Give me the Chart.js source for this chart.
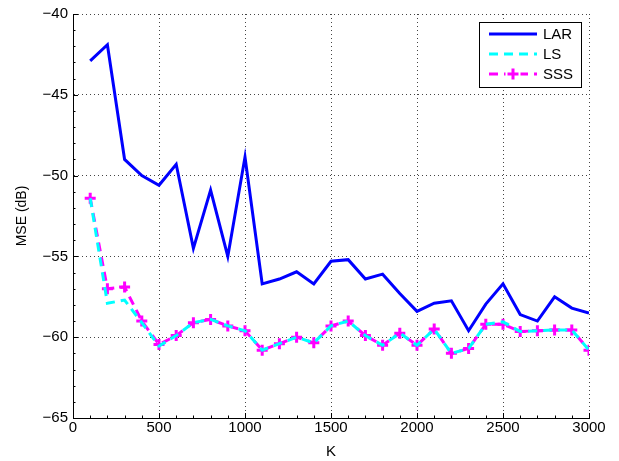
<!DOCTYPE html>
<html>
<head>
<meta charset="utf-8">
<script src="https://cdn.jsdelivr.net/npm/chart.js@4"></script>
<style>
  html, body { margin: 0; padding: 0; background: #fff; }
  #wrap { width: 619px; height: 461px; }
</style>
</head>
<body>
<div id="wrap"><canvas id="myChart" width="619" height="461"></canvas></div>
<script>
const kValues = [100, 200, 300, 400, 500, 600, 700, 800, 900, 1000,
                 1100, 1200, 1300, 1400, 1500, 1600, 1700, 1800, 1900, 2000,
                 2100, 2200, 2300, 2400, 2500, 2600, 2700, 2800, 2900, 3000];

const larValues = [-42.9, -41.9, -49.0, -50.0, -50.6, -49.3, -54.5, -50.9, -55.0, -48.85,
                   -56.7, -56.4, -55.95, -56.7, -55.3, -55.2, -56.4, -56.1, -57.3, -58.4,
                   -57.9, -57.75, -59.6, -57.95, -56.7, -58.6, -59.0, -57.5, -58.2, -58.5];

const lsValues = [-51.4, -57.9, -57.7, -59.1, -60.55, -59.9, -59.1, -58.9, -59.3, -59.6,
                  -60.8, -60.4, -60.0, -60.35, -59.3, -59.0, -59.9, -60.5, -59.75, -60.5,
                  -59.5, -61.0, -60.7, -59.2, -59.05, -59.65, -59.6, -59.55, -59.55, -60.8];

const sssValues = [-51.4, -57.0, -56.9, -59.0, -60.45, -59.9, -59.1, -58.9, -59.3, -59.6,
                   -60.8, -60.4, -60.0, -60.35, -59.3, -59.0, -59.9, -60.5, -59.75, -60.5,
                   -59.5, -61.0, -60.7, -59.2, -59.2, -59.65, -59.6, -59.55, -59.55, -60.8];

const seriesNames = ['LAR', 'LS', 'SSS'];
const xTicks = [0, 500, 1000, 1500, 2000, 2500, 3000];
const yTicks = [-65, -60, -55, -50, -45, -40];

const FONT = '"Liberation Sans", Arial, Helvetica, sans-serif';

function toPoints(vals) {
    return kValues.map((k, i) => ({ x: k, y: vals[i] }));
}

// inward ticks like matlab (major + minor)
const tickMarks = {
    id: 'tickMarks',
    afterDraw(chart) {
        const ctx = chart.ctx;
        const xs = chart.scales.x, ys = chart.scales.y;
        const a = chart.chartArea;
        ctx.save();
        ctx.strokeStyle = '#000';
        ctx.lineWidth = 1;
        ctx.beginPath();
        for (let v = 0; v <= 3000; v += 100) {
            const px = Math.round(xs.getPixelForValue(v)) + 0.5;
            const len = v % 500 === 0 ? 5 : 2.5;
            ctx.moveTo(px, a.bottom);
            ctx.lineTo(px, a.bottom - len);
        }
        for (let v = -65; v <= -40; v += 1) {
            const py = Math.round(ys.getPixelForValue(v)) + 0.5;
            const len = v % 5 === 0 ? 5 : 2.5;
            ctx.moveTo(a.left, py);
            ctx.lineTo(a.left + len, py);
        }
        ctx.stroke();
        ctx.restore();
    }
};

// legend box inside the plot, top right
const boxLegend = {
    id: 'boxLegend',
    afterDraw(chart) {
        const ctx = chart.ctx;
        const a = chart.chartArea;
        const w = 102, h = 65;
        const left = a.right - 8 - w, top = a.top + 8;
        ctx.save();
        ctx.fillStyle = '#fff';
        ctx.fillRect(left, top, w, h);
        ctx.strokeStyle = '#000';
        ctx.lineWidth = 1;
        ctx.strokeRect(left + 0.5, top + 0.5, w, h);
        ctx.font = '15px ' + FONT;
        ctx.textBaseline = 'middle';
        chart.data.datasets.forEach((ds, i) => {
            const y = top + 12 + i * 20;
            const x0 = left + 10, x1 = left + 58;
            ctx.strokeStyle = ds.borderColor;
            ctx.lineWidth = ds.borderWidth;
            ctx.setLineDash(ds.borderDash || []);
            ctx.beginPath();
            ctx.moveTo(x0, y);
            ctx.lineTo(x1, y);
            ctx.stroke();
            ctx.setLineDash([]);
            if (ds.pointRadius > 0) {
                const cx = (x0 + x1) / 2, r = ds.pointRadius;
                ctx.fillStyle = '#fff';
                ctx.fillRect(cx - r - 2, y - r, 2 * r + 4, 2 * r);
                ctx.strokeStyle = ds.pointBorderColor;
                ctx.lineWidth = ds.pointBorderWidth;
                ctx.beginPath();
                ctx.moveTo(cx - r, y); ctx.lineTo(cx + r, y);
                ctx.moveTo(cx, y - r); ctx.lineTo(cx, y + r);
                ctx.stroke();
            }
            ctx.fillStyle = '#000';
            ctx.fillText(ds.label, x1 + 6, y + 1);
        });
        ctx.restore();
    }
};

let ctx = document.getElementById('myChart').getContext('2d');
let myChart = new Chart(ctx, {
    type: 'line',
    data: {
        datasets: [
            {
                label: seriesNames[0],
                data: toPoints(larValues),
                borderColor: '#0000ff',
                borderWidth: 3,
                pointRadius: 0,
                tension: 0
            },
            {
                label: seriesNames[1],
                data: toPoints(lsValues),
                borderColor: '#00ffff',
                borderWidth: 3,
                borderDash: [9, 6],
                pointRadius: 0,
                tension: 0
            },
            {
                label: seriesNames[2],
                data: toPoints(sssValues),
                borderColor: '#ff00ff',
                borderWidth: 3,
                borderDash: [9, 6],
                pointStyle: 'cross',
                pointRadius: 5.5,
                pointBorderWidth: 3,
                pointBorderColor: '#ff00ff',
                pointBackgroundColor: '#ff00ff',
                tension: 0
            }
        ]
    },
    options: {
        responsive: false,
        animation: false,
        layout: { padding: { left: 0, right: 30, top: 11, bottom: 0 } },
        plugins: {
            legend: { display: false },
            tooltip: { enabled: false }
        },
        scales: {
            x: {
                type: 'linear',
                min: 0,
                max: 3000,
                afterBuildTicks: (axis) => { axis.ticks = xTicks.map(v => ({ value: v })); },
                afterFit: (axis) => { axis.height = 43; },
                ticks: {
                    color: '#000',
                    font: { family: FONT, size: 15 },
                    padding: 1,
                    maxRotation: 0,
                    callback: (v) => String(v)
                },
                grid: { color: '#444', lineWidth: 1, drawTicks: false },
                border: { color: '#000', width: 1, dash: [1, 3] },
                title: {
                    display: true,
                    text: 'K',
                    color: '#000',
                    font: { family: FONT, size: 15 },
                    padding: { top: 0, bottom: 0 }
                }
            },
            y: {
                type: 'linear',
                min: -65,
                max: -40,
                afterBuildTicks: (axis) => { axis.ticks = yTicks.map(v => ({ value: v })); },
                afterFit: (axis) => { axis.width = 73; },
                ticks: {
                    color: '#000',
                    font: { family: FONT, size: 15 },
                    padding: 5,
                    callback: (v) => String(v).replace('-', '\u2212')
                },
                grid: { color: '#444', lineWidth: 1, drawTicks: false },
                border: { color: '#000', width: 1, dash: [1, 3] },
                title: {
                    display: true,
                    text: 'MSE (dB)',
                    color: '#000',
                    font: { family: FONT, size: 14 },
                    padding: { top: 14, bottom: 4 }
                }
            }
        }
    },
    plugins: [tickMarks, boxLegend]
});
</script>
</body>
</html>
